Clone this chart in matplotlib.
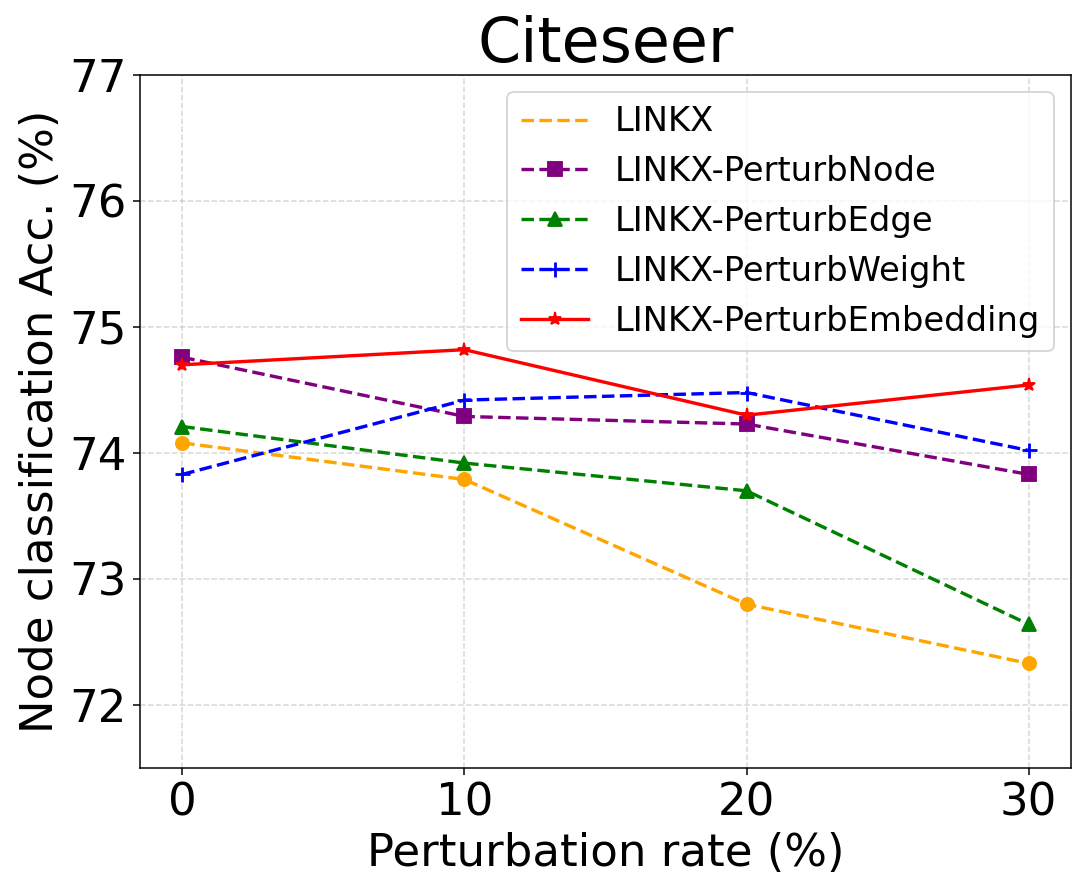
import matplotlib
matplotlib.use("Agg")
import matplotlib.pyplot as plt

rates = [0, 10, 20, 30]
linkx = [74.08, 73.79, 72.80, 72.33]
perturb_node = [74.76, 74.29, 74.23, 73.83]
perturb_edge = [74.21, 73.92, 73.70, 72.64]
perturb_weight = [73.83, 74.42, 74.48, 74.02]
perturb_embedding = [74.70, 74.82, 74.30, 74.54]

fig, ax = plt.subplots(figsize=(1086 / 135, 896 / 135), dpi=135)

lw = 1.8
ax.plot(rates, linkx, linestyle="--", linewidth=lw, color="orange", label="LINKX")
ax.plot(rates, linkx, linestyle="none", marker="o", markersize=7, color="orange")
ax.plot(rates, perturb_node, linestyle="--", linewidth=lw, marker="s", markersize=7, color="purple", label="LINKX-PerturbNode")
ax.plot(rates, perturb_edge, linestyle="--", linewidth=lw, marker="^", markersize=7, color="green", label="LINKX-PerturbEdge")
ax.plot(rates, perturb_weight, linestyle="--", linewidth=lw, marker="+", markersize=8, markeredgewidth=1.5, color="blue", label="LINKX-PerturbWeight")
ax.plot(rates, perturb_embedding, linestyle="-", linewidth=lw, marker="*", markersize=7, color="red", label="LINKX-PerturbEmbedding")

ax.set_title("Citeseer", fontsize=33)
ax.set_xlabel("Perturbation rate (%)", fontsize=24)
ax.set_ylabel("Node classification Acc. (%)", fontsize=24)
ax.set_xticks(rates)
ax.set_ylim(71.5, 77)
ax.set_yticks([72, 73, 74, 75, 76, 77])
ax.tick_params(axis="both", labelsize=24)
ax.grid(True, linestyle="--", alpha=0.5)
ax.legend(loc="upper right", fontsize=18)

fig.subplots_adjust(left=140 / 1086, right=1071 / 1086, top=1 - 75 / 896, bottom=1 - 768 / 896)
fig.savefig("out.png", dpi=135)
